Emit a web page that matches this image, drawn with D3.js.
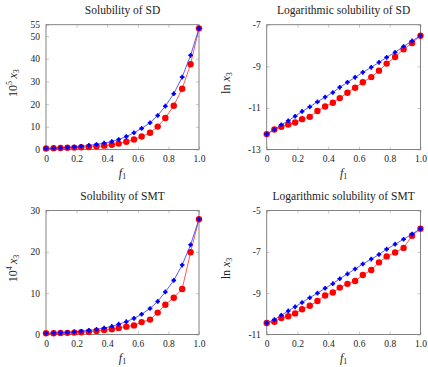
<!DOCTYPE html>
<html>
<head>
<meta charset="utf-8">
<script src="https://cdn.jsdelivr.net/npm/d3@7"></script>
<style>
  body { margin: 0; background: #fff; }
  svg, svg text { font-family: "Liberation Serif", "DejaVu Serif", serif; }
  .tick text { font-size: 9.5px; fill: #222; font-family: "Liberation Serif", serif; }
</style>
</head>
<body>
<svg id="chart" width="428" height="367"></svg>
<script>
// mass fraction of solvent 1
var f1 = [0, 0.05, 0.095, 0.14, 0.185, 0.23, 0.28, 0.33, 0.38, 0.43, 0.475,
  0.525, 0.575, 0.625, 0.68, 0.73, 0.78, 0.835, 0.89, 0.945, 1.0];

// SD, 10^5 x3
var sdRed = [0.47, 0.59, 0.67, 0.75, 0.83, 0.97, 1.1, 1.4, 1.7, 2.1, 2.6,
  3.4, 4.4, 5.7, 7.4, 10.1, 13.9, 19.3, 26.8, 37.6, 53.4];
var sdBlue = [0.47, 0.6, 0.72, 0.9, 1.1, 1.4, 1.8, 2.2, 2.8, 3.5, 4.4,
  5.7, 7.4, 9.3, 11.8, 15.0, 19.1, 24.6, 31.9, 41.5, 53.4];
// SD, ln x3
var sdLnRed = [-12.26, -12.04, -11.91, -11.8, -11.7, -11.54, -11.43, -11.15, -10.93, -10.75, -10.53,
  -10.27, -10.03, -9.77, -9.52, -9.21, -8.87, -8.55, -8.18, -7.88, -7.53];
var sdLnBlue = [-12.26, -12.04, -11.81, -11.62, -11.4, -11.17, -10.95, -10.71, -10.48, -10.26, -10.01,
  -9.77, -9.53, -9.29, -9.05, -8.81, -8.57, -8.33, -8.05, -7.78, -7.53];

// SMT, 10^4 x3
var smtRed = [0.29, 0.31, 0.37, 0.4, 0.46, 0.56, 0.67, 0.84, 1.1, 1.27, 1.6,
  1.9, 2.2, 3.0, 3.6, 5.3, 7.2, 8.9, 11.0, 19.9, 27.9];
var smtBlue = [0.29, 0.34, 0.42, 0.52, 0.64, 0.79, 0.99, 1.23, 1.57, 1.95, 2.5,
  3.1, 3.9, 4.9, 6.3, 8.0, 10.3, 13.1, 16.8, 21.7, 27.9];
// SMT, ln x3
var smtLnRed = [-10.44, -10.38, -10.2, -10.12, -9.98, -9.78, -9.61, -9.38, -9.11, -8.97, -8.73,
  -8.55, -8.41, -8.12, -7.88, -7.51, -7.22, -7.03, -6.81, -6.22, -5.88];
var smtLnBlue = [-10.44, -10.28, -10.07, -9.86, -9.66, -9.45, -9.22, -9.0, -8.76, -8.54, -8.3,
  -8.07, -7.83, -7.59, -7.35, -7.13, -6.87, -6.63, -6.39, -6.14, -5.88];

var xTicks = [0, 0.2, 0.4, 0.6, 0.8, 1.0];

var panels = [
  { title: "Solubility of SD", ylab: "pow", pow: "5", red: sdRed, blue: sdBlue,
    domain: [0, 55], ticks: [0, 10, 20, 30, 40, 50, 55],
    left: 46, right: 199, top: 24.7, bottom: 149.5 },
  { title: "Logarithmic solubility of SD", ylab: "ln", red: sdLnRed, blue: sdLnBlue,
    domain: [-13, -7], ticks: [-13, -11, -9, -7],
    left: 266.7, right: 420.5, top: 24.7, bottom: 149.5 },
  { title: "Solubility of SMT", ylab: "pow", pow: "4", red: smtRed, blue: smtBlue,
    domain: [0, 30], ticks: [0, 10, 20, 30],
    left: 46, right: 199, top: 210.5, bottom: 334.5 },
  { title: "Logarithmic solubility of SMT", ylab: "ln", red: smtLnRed, blue: smtLnBlue,
    domain: [-11, -5], ticks: [-11, -9, -7, -5],
    left: 266.7, right: 420.5, top: 210.5, bottom: 334.5 }
];

var svg = d3.select("#chart");

panels.forEach(function (p) {
  var w = p.right - p.left, h = p.bottom - p.top;
  var x = d3.scaleLinear().domain([0, 1]).range([0, w]);
  var y = d3.scaleLinear().domain(p.domain).range([h, 0]);

  var g = svg.append("g").attr("transform", "translate(" + p.left + "," + p.top + ")");

  // axes, ticks inward on all four sides
  var axB = g.append("g").attr("transform", "translate(0," + h + ")")
    .call(d3.axisBottom(x).tickValues(xTicks).tickSizeInner(-3).tickSizeOuter(0).tickPadding(6)
      .tickFormat(function (d) { return d === 0 ? "0" : d3.format(".1f")(d); }));
  var axL = g.append("g")
    .call(d3.axisLeft(y).tickValues(p.ticks).tickSizeInner(-3).tickSizeOuter(0).tickPadding(6)
      .tickFormat(function (d) { return String(d); }));
  var axT = g.append("g").call(d3.axisTop(x).tickValues(xTicks).tickSizeInner(-3).tickSizeOuter(0).tickFormat(""));
  var axR = g.append("g").attr("transform", "translate(" + w + ",0)")
    .call(d3.axisRight(y).tickValues(p.ticks).tickSizeInner(-3).tickSizeOuter(0).tickFormat(""));
  [axB, axL, axT, axR].forEach(function (a) {
    a.attr("font-family", null).attr("font-size", null);
    a.select(".domain").remove();
    a.selectAll(".tick line").attr("stroke", "#bbb").attr("stroke-width", 0.8);
  });

  g.append("rect").attr("width", w).attr("height", h)
    .attr("fill", "none").attr("stroke", "#777").attr("stroke-width", 0.9);

  var line = d3.line()
    .x(function (d, i) { return x(f1[i]); })
    .y(function (d) { return y(d); });

  g.append("path").datum(p.red).attr("d", line)
    .attr("fill", "none").attr("stroke", "#ff3030").attr("stroke-width", 0.8);
  g.selectAll(".mred").data(p.red).enter().append("circle")
    .attr("class", "mred")
    .attr("cx", function (d, i) { return x(f1[i]); })
    .attr("cy", function (d) { return y(d); })
    .attr("r", 3.2).attr("fill", "#ff0000");

  g.append("path").datum(p.blue).attr("d", line)
    .attr("fill", "none").attr("stroke", "#3030ff").attr("stroke-width", 0.8);
  g.selectAll(".mblue").data(p.blue).enter().append("path")
    .attr("class", "mblue")
    .attr("transform", function (d, i) { return "translate(" + x(f1[i]) + "," + y(d) + ")"; })
    .attr("d", d3.symbol().type(d3.symbolCross).size(12))
    .attr("fill", "#0000ff");
  g.selectAll(".mblue2").data(p.blue).enter().append("circle")
    .attr("class", "mblue2")
    .attr("cx", function (d, i) { return x(f1[i]); })
    .attr("cy", function (d) { return y(d); })
    .attr("r", 1.7).attr("fill", "#0000ff");

  // title
  svg.append("text")
    .attr("x", p.left + w / 2).attr("y", p.top - 11)
    .attr("text-anchor", "middle").attr("font-size", "11.5px").attr("fill", "#222")
    .text(p.title);

  // x label f_1
  var xl = svg.append("text")
    .attr("x", p.left + w / 2).attr("y", p.bottom + 27)
    .attr("text-anchor", "middle").attr("font-size", "12px").attr("fill", "#222");
  xl.append("tspan").attr("font-style", "italic").text("f");
  xl.append("tspan").attr("font-size", "8px").attr("dy", 2).text("1");

  // y label
  var lx = p.ylab === "ln" ? p.left - 37 : p.left - 29;
  var yl = svg.append("text")
    .attr("transform", "translate(" + lx + "," + (p.top + h / 2 - 4) + ") rotate(-90)")
    .attr("text-anchor", "middle").attr("font-size", "12px").attr("fill", "#222");
  if (p.ylab === "ln") {
    yl.append("tspan").text("ln ");
  } else {
    yl.append("tspan").text("10");
    yl.append("tspan").attr("font-size", "8px").attr("dy", -5).text(p.pow);
    yl.append("tspan").attr("dy", 5).text("\u2009");
  }
  yl.append("tspan").attr("font-style", "italic").text("x");
  yl.append("tspan").attr("font-size", "8px").attr("dy", 2).text("3");
});
</script>
</body>
</html>
